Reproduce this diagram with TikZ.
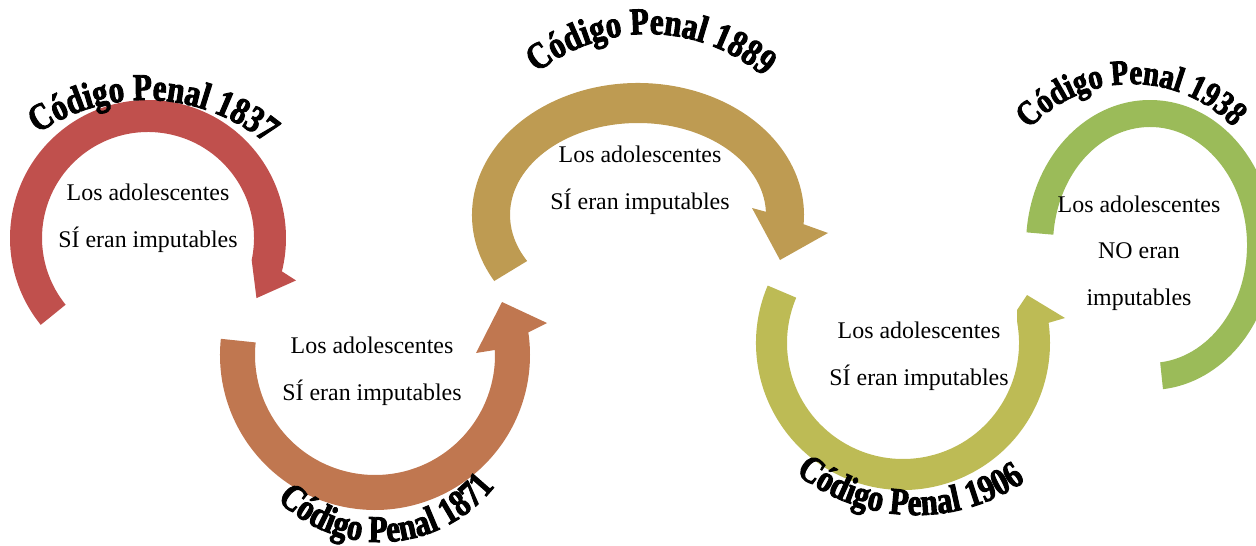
\documentclass[tikz,border=0pt]{standalone}
\usepackage{fontspec}
\setmainfont{Liberation Serif}
\newfontfamily\titlefont{Liberation Serif}[FakeStretch=0.82,FakeBold=2.5]
\usetikzlibrary{calc,decorations.text}
\definecolor{cA}{RGB}{192,80,77}
\definecolor{cB}{RGB}{192,119,80}
\definecolor{cC}{RGB}{190,155,82}
\definecolor{cD}{RGB}{189,187,85}
\definecolor{cE}{RGB}{155,187,89}
\tikzset{
  titletext/.style 2 args={decorate, decoration={text along path, text align=center,
      text={|\titlefont\bfseries\fontsize{#2}{22}\selectfont|#1}}},
  body/.style={align=center, font=\fontsize{13.6}{26.6}\selectfont, inner sep=0pt},
}
\begin{document}
\begin{tikzpicture}[x=0.02cm,y=0.02cm]
\useasboundingbox (0,0) rectangle (1256,545);
\coordinate (C1) at (148,307);
\coordinate (C2) at (375,190);
\coordinate (C3) at (638,330);
\coordinate (C4) at (903,202);
\coordinate (C5) at (1150,300);
% arc 1
\fill[cA] ($(C1)+(219:138)$) arc[start angle=219, end angle=-14, radius=138]
  -- ($(C1)+(-16:154)$) -- ($(C1)+(-29:124)$) -- ($(C1)+(-12:106)$)
  arc[start angle=-12, end angle=219, radius=106] -- cycle;
% arc 2
\fill[cB] ($(C2)+(174:155)$) arc[start angle=174, end angle=368.4, radius=155]
  -- (547,222) -- (502,243) -- (476,192) -- ($(C2)+(2.4:120)$)
  arc[start angle=362.4, end angle=174, radius=120] -- cycle;
% arc 3
\fill[cC] ($(C3)+(210:166 and 132)$) arc[start angle=210, end angle=-4, x radius=166, y radius=132]
  -- (828,312) -- (780,285) -- (752,337) -- ($(C3)+(2:128 and 92)$)
  arc[start angle=2, end angle=210, x radius=128, y radius=92] -- cycle;
% arc 4
\fill[cD] ($(C4)+(157:147)$) arc[start angle=157, end angle=367.9, radius=147]
  -- (1065,227) -- (1027,250) -- (1017,235) -- ($(C4)+(10:116)$)
  arc[start angle=370, end angle=157, radius=116] -- cycle;
% arc 5
\fill[cE] ($(C5)+(175:124 and 145)$) arc[start angle=175, end angle=-84, x radius=124, y radius=145]
  -- ($(C5)+(-84:97 and 118)$)
  arc[start angle=-84, end angle=175, x radius=97, y radius=118] -- cycle;
% titles
\coordinate (T1) at (145.5,255);
\coordinate (T2) at (380,149);
\coordinate (T3) at (648,333);
\coordinate (T4) at (916,224);
\coordinate (T5) at (1132,321);
\path[titletext={Código Penal 1837}{21.5}] ($(T1)+(160:190)$) arc[start angle=160, end angle=15, radius=190];
\path[titletext={Código Penal 1871}{21.5}] ($(T2)+(200:146)$) arc[start angle=200, end angle=347, radius=146];
\path[titletext={Código Penal 1889}{21.5}] ($(T3)+(164:178)$) arc[start angle=164, end angle=14, radius=178];
\path[titletext={Código Penal 1906}{21.5}] ($(T4)+(210:194)$) arc[start angle=210, end angle=326, radius=194];
\path[titletext={Código Penal 1938}{20}] ($(T5)+(170:140)$) arc[start angle=170, end angle=11, radius=140];
% body texts
\node[body] (b1) at (148,326.5) {Los adolescentes\\SÍ eran imputables};
\node[body] (b2) at (372,174) {Los adolescentes\\SÍ eran imputables};
\node[body] (b3) at (640,365) {Los adolescentes\\SÍ eran imputables};
\node[body] (b4) at (919,189) {Los adolescentes\\SÍ eran imputables};
\node[body] (b5) at (1139,292) {Los adolescentes\\NO eran\\imputables};
\end{tikzpicture}
\end{document}
